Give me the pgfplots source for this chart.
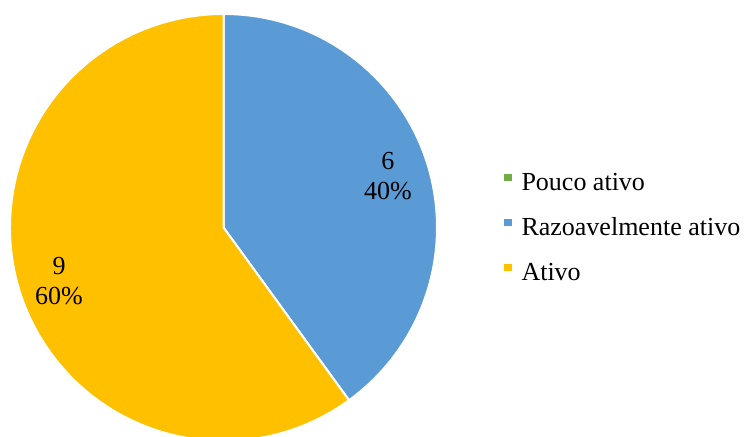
\documentclass[border=0pt]{standalone}
\usepackage{fontspec}
\setmainfont{Liberation Serif}
\usepackage{pgfplots}
\usepackage{pgfplotstable}
\pgfplotsset{compat=1.18}

\definecolor{pgreen}{HTML}{70AD47}
\definecolor{pblue}{HTML}{5B9BD5}
\definecolor{pgold}{HTML}{FFC000}

\pgfplotstableread{
label value
{Pouco ativo} 0
{Razoavelmente ativo} 6
Ativo 9
}\piedata

\pgfplotstablegetelem{0}{value}\of\piedata \let\vA\pgfplotsretval
\pgfplotstablegetelem{1}{value}\of\piedata \let\vB\pgfplotsretval
\pgfplotstablegetelem{2}{value}\of\piedata \let\vC\pgfplotsretval

% angles, clockwise from the top
\pgfmathsetmacro\total{\vA+\vB+\vC}
\pgfmathsetmacro\aA{90}
\pgfmathsetmacro\aB{\aA-360*\vA/\total}
\pgfmathsetmacro\aC{\aB-360*\vB/\total}
\pgfmathsetmacro\aD{\aC-360*\vC/\total}
\pgfmathsetmacro\mB{(\aB+\aC)/2}
\pgfmathsetmacro\mC{(\aC+\aD)/2}
\pgfmathtruncatemacro\pB{round(100*\vB/\total)}
\pgfmathtruncatemacro\pC{round(100*\vC/\total)}

\def\R{106.75pt}

\begin{document}
\begin{tikzpicture}
\begin{axis}[
    width=374pt, height=218.5pt,
    scale only axis,
    hide axis,
    xmin=0, xmax=748, ymin=0, ymax=437,
    clip=true,
    font=\fontsize{13}{14}\selectfont,
    legend style={
        at={(axis cs:504,265)}, anchor=north west,
        draw=none, fill=none, inner sep=0pt,
        row sep=10.5pt,
        nodes={inner sep=0pt, text height=9pt, text depth=3pt},
        /tikz/every odd column/.append style={column sep=4.75pt},
    },
    legend cell align=left,
    legend image code/.code={\fill[#1] (0pt,1.6pt) rectangle (3.8pt,5.4pt);},
]
\addlegendimage{fill=pgreen, draw=none}
\addlegendentry{Pouco ativo}
\addlegendimage{fill=pblue, draw=none}
\addlegendentry{Razoavelmente ativo}
\addlegendimage{fill=pgold, draw=none}
\addlegendentry{Ativo}

\filldraw[fill=pblue, draw=white, line width=1pt]
    (axis cs:223.5,209.5) -- ++(\aB:\R) arc[start angle=\aB, end angle=\aC, radius=\R] -- cycle;
\filldraw[fill=pgold, draw=white, line width=1pt]
    (axis cs:223.5,209.5) -- ++(\aC:\R) arc[start angle=\aC, end angle=\aD, radius=\R] -- cycle;

\path (axis cs:223.5,207) ++(\mB:0.81*\R)
    node[align=center, font=\fontsize{13}{15}\selectfont] {\vB\\\pB\%};
\path (axis cs:223.5,209.5) ++(\mC:0.81*\R)
    node[align=center, font=\fontsize{13}{15}\selectfont] {\vC\\\pC\%};
\end{axis}
\pgfresetboundingbox
\useasboundingbox (current axis.south west) rectangle (current axis.north east);
\end{tikzpicture}
\end{document}
